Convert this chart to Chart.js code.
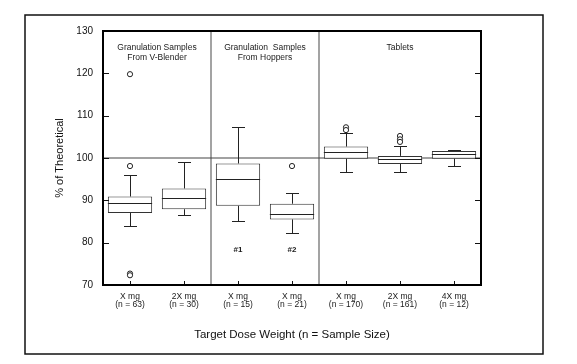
<!DOCTYPE html>
<html>
<head>
<meta charset="utf-8">
<script src="https://cdn.jsdelivr.net/npm/chart.js@4.4.1/dist/chart.umd.min.js"></script>
<style>
  html, body { margin: 0; padding: 0; background: #fff; }
  #wrap { width: 577px; height: 364px; }
</style>
</head>
<body>
<div id="wrap"><canvas id="boxChart" width="577" height="364"></canvas></div>
<script>
// categories
const doseLabels = ['X mg', '2X mg', 'X mg', 'X mg', 'X mg', '2X mg', '4X mg'];
const sampleSizes = [63, 30, 15, 21, 170, 161, 12];

// box statistics (% of theoretical)
const q1Values = [87.0, 87.9, 88.7, 85.5, 99.85, 98.6, 99.85];
const medianValues = [89.4, 90.5, 95.1, 86.7, 101.3, 99.7, 100.9];
const q3Values = [90.9, 92.8, 98.7, 89.2, 102.7, 100.5, 101.65];
const whiskerLow = [83.9, 86.6, 85.1, 82.4, 96.6, 96.6, 98.1];
const whiskerHigh = [96.1, 99.05, 107.4, 91.8, 105.8, 102.8, 101.9];

// outliers: category index + value
const outlierCategory = [0, 0, 0, 0, 3, 4, 4, 5, 5, 5];
const outlierValue = [119.8, 98.1, 72.7, 72.3, 98.1, 107.25, 106.6, 105.2, 104.4, 103.8];

// y axis ticks
const yTicks = [70, 80, 90, 100, 110, 120, 130];
const referenceLevel = 100;

// sections of the plot
const sectionTitles = [['Granulation Samples', 'From V-Blender'], ['Granulation  Samples', 'From Hoppers'], ['Tablets']];
const sectionFirst = [0, 2, 4];
const sectionLast = [1, 3, 6];
const calloutText = ['#1', '#2'];
const calloutCategory = [2, 3];

const BASE_FONT = '"Liberation Sans", Arial, Helvetica, sans-serif';

const categoryLabels = doseLabels.map((d, i) => [d, '(n = ' + sampleSizes[i] + ')']);

const boxPlotPlugin = {
    id: 'boxPlotExtras',
    beforeDraw(chart) {
        const { ctx, width, height } = chart;
        ctx.save();
        ctx.fillStyle = '#fff';
        ctx.fillRect(0, 0, width, height);
        // outer figure frame
        ctx.strokeStyle = '#111';
        ctx.lineWidth = 1.5;
        ctx.strokeRect(25, 15, width - 25 - 34, height - 15 - 10);
        ctx.restore();
    },
    beforeDatasetsDraw(chart) {
        const { ctx, chartArea: a, scales } = chart;
        const x = scales.x, y = scales.y;
        ctx.save();

        // section dividers
        ctx.strokeStyle = '#666';
        ctx.lineWidth = 1.2;
        for (let s = 1; s < sectionFirst.length; s++) {
            const px = (x.getPixelForValue(sectionLast[s - 1]) + x.getPixelForValue(sectionFirst[s])) / 2;
            ctx.beginPath();
            ctx.moveTo(px, a.top);
            ctx.lineTo(px, a.bottom);
            ctx.stroke();
        }

        // 100 % reference line
        const ry = y.getPixelForValue(referenceLevel);
        ctx.strokeStyle = '#444';
        ctx.beginPath();
        ctx.moveTo(a.left, ry);
        ctx.lineTo(a.right, ry);
        ctx.stroke();

        // whiskers and caps
        ctx.strokeStyle = '#222';
        ctx.lineWidth = 1;
        q1Values.forEach((q1, i) => {
            const cx = Math.round(x.getPixelForValue(i)) + 0.5;
            const yq1 = y.getPixelForValue(q1);
            const yq3 = y.getPixelForValue(q3Values[i]);
            const ylo = Math.round(y.getPixelForValue(whiskerLow[i])) + 0.5;
            const yhi = Math.round(y.getPixelForValue(whiskerHigh[i])) + 0.5;
            ctx.beginPath();
            ctx.moveTo(cx, yq3); ctx.lineTo(cx, yhi);
            ctx.moveTo(cx, yq1); ctx.lineTo(cx, ylo);
            ctx.moveTo(cx - 6.5, yhi); ctx.lineTo(cx + 6.5, yhi);
            ctx.moveTo(cx - 6.5, ylo); ctx.lineTo(cx + 6.5, ylo);
            ctx.stroke();
        });

        // section titles
        ctx.fillStyle = '#1a1a1a';
        ctx.font = '8.5px ' + BASE_FONT;
        ctx.textAlign = 'center';
        ctx.textBaseline = 'middle';
        sectionTitles.forEach((lines, s) => {
            const px = (x.getPixelForValue(sectionFirst[s]) + x.getPixelForValue(sectionLast[s])) / 2;
            lines.forEach((t, k) => ctx.fillText(t, px, a.top + 17 + k * 9.5));
        });

        // callouts under the hopper boxes
        ctx.font = 'bold 8px ' + BASE_FONT;
        calloutText.forEach((t, k) => {
            ctx.fillText(t, x.getPixelForValue(calloutCategory[k]), y.getPixelForValue(78.3));
        });
        ctx.restore();
    },
    afterDatasetsDraw(chart) {
        const { ctx, chartArea: a, scales } = chart;
        const x = scales.x, y = scales.y;
        const meta = chart.getDatasetMeta(0);
        ctx.save();

        // medians
        ctx.strokeStyle = '#222';
        ctx.lineWidth = 1;
        meta.data.forEach((bar, i) => {
            const my = Math.round(y.getPixelForValue(medianValues[i])) + 0.5;
            ctx.beginPath();
            ctx.moveTo(bar.x - bar.width / 2, my);
            ctx.lineTo(bar.x + bar.width / 2, my);
            ctx.stroke();
        });

        // inward tick marks
        ctx.strokeStyle = '#111';
        yTicks.slice(1, -1).forEach(v => {
            const py = Math.round(y.getPixelForValue(v)) + 0.5;
            ctx.beginPath();
            ctx.moveTo(a.left, py); ctx.lineTo(a.left + 6, py);
            ctx.moveTo(a.right, py); ctx.lineTo(a.right - 6, py);
            ctx.stroke();
        });
        doseLabels.forEach((_, i) => {
            const px = Math.round(x.getPixelForValue(i)) + 0.5;
            ctx.beginPath();
            ctx.moveTo(px, a.bottom); ctx.lineTo(px, a.bottom - 4);
            ctx.stroke();
        });

        // plot frame
        ctx.strokeStyle = '#000';
        ctx.lineWidth = 2;
        ctx.strokeRect(a.left, a.top, a.right - a.left, a.bottom - a.top);
        ctx.restore();
    }
};

const data = {
    labels: categoryLabels,
    datasets: [{
        type: 'bar',
        label: 'Box',
        data: q1Values.map((v, i) => [v, q3Values[i]]),
        backgroundColor: '#ffffff',
        borderColor: '#333',
        borderWidth: 1,
        borderSkipped: false,
        grouped: false,
        categoryPercentage: 1,
        barPercentage: 0.82,
        order: 2
    }, {
        type: 'line',
        label: 'Outliers',
        showLine: false,
        data: outlierValue.map((v, i) => ({ x: categoryLabels[outlierCategory[i]], y: v })),
        pointStyle: 'circle',
        pointRadius: 2.6,
        pointBorderWidth: 1,
        pointBackgroundColor: '#ffffff',
        pointBorderColor: '#222',
        order: 1
    }]
};

const config = {
    type: 'bar',
    data: data,
    options: {
        responsive: false,
        animation: false,
        layout: { padding: { left: 0, right: 96, top: 31, bottom: 0 } },
        plugins: {
            legend: { display: false },
            tooltip: { enabled: false }
        },
        scales: {
            x: {
                type: 'category',
                offset: true,
                grid: { display: false, drawTicks: false },
                border: { display: false },
                ticks: {
                    color: '#1a1a1a',
                    font: { family: BASE_FONT, size: 8.5, lineHeight: 1.0 },
                    padding: 7,
                    maxRotation: 0,
                    autoSkip: false
                },
                title: {
                    display: true,
                    text: 'Target Dose Weight (n = Sample Size)',
                    color: '#111',
                    font: { family: BASE_FONT, size: 11.5 },
                    padding: { top: 0, bottom: 22 }
                },
                afterFit: scale => { scale.height = 79; }
            },
            y: {
                min: yTicks[0],
                max: yTicks[yTicks.length - 1],
                grid: { display: false, drawTicks: false },
                border: { display: false },
                ticks: {
                    stepSize: 10,
                    color: '#111',
                    font: { family: BASE_FONT, size: 10 },
                    padding: 10
                },
                title: {
                    display: true,
                    text: '% of Theoretical',
                    color: '#111',
                    font: { family: BASE_FONT, size: 11 },
                    padding: { top: 53, bottom: 0 }
                },
                afterFit: scale => { scale.width = 103; }
            }
        }
    },
    plugins: [boxPlotPlugin]
};

new Chart(document.getElementById('boxChart').getContext('2d'), config);
</script>
</body>
</html>
